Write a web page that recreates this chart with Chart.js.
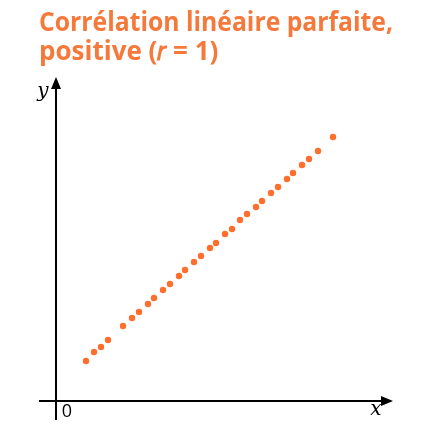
<!DOCTYPE html>
<html lang="fr">
<head>
<meta charset="utf-8">
<title>Corrélation linéaire parfaite, positive</title>
<script src="https://cdn.jsdelivr.net/npm/chart.js@4.4.1/dist/chart.umd.min.js"></script>
<style>
  html, body { margin: 0; padding: 0; background: #ffffff; }
  #wrap { position: relative; width: 429px; height: 436px; }
</style>
</head>
<body>
<div id="wrap"><canvas id="scatterChart"></canvas></div>
<script>
// --- DONNÉES ---
const titleLines = ['Corrélation linéaire parfaite,', 'positive (\u{1D45F} = 1)'];
const xValues = [3.0, 3.8, 4.5, 5.2, 6.7, 7.6, 8.3, 9.2, 9.8, 10.7, 11.4, 12.3, 12.9, 13.8, 14.5, 15.4,
                 16.0, 16.9, 17.6, 18.4, 19.1, 20.0, 20.6, 21.5, 22.2, 23.1, 23.7, 24.6, 25.3, 26.2, 27.7];
const yValues = [4.0, 4.9, 5.4, 6.1, 7.5, 8.3, 8.9, 9.7, 10.3, 11.1, 11.7, 12.5, 13.1, 13.9, 14.5, 15.3,
                 15.8, 16.7, 17.2, 18.1, 18.7, 19.4, 20.0, 20.8, 21.4, 22.2, 22.8, 23.6, 24.2, 25.0, 26.4];
const originLabel = '0';
const xAxisLabel = 'x';
const yAxisLabel = 'y';

const orange = '#f5793b';
const pointOrange = '#ff6e2c';

// Axes fléchés dessinés à partir des échelles
const arrowAxes = {
    id: 'arrowAxes',
    afterDatasetsDraw(chart) {
        const { ctx, chartArea, scales } = chart;
        const x0 = scales.x.getPixelForValue(0);
        const y0 = scales.y.getPixelForValue(0);
        ctx.save();
        ctx.strokeStyle = '#000';
        ctx.fillStyle = '#000';
        ctx.lineWidth = 2;

        // axe vertical
        ctx.beginPath();
        ctx.moveTo(x0, chartArea.bottom);
        ctx.lineTo(x0, chartArea.top + 10);
        ctx.stroke();
        ctx.beginPath();
        ctx.moveTo(x0, chartArea.top);
        ctx.lineTo(x0 - 5, chartArea.top + 12);
        ctx.lineTo(x0 + 5, chartArea.top + 12);
        ctx.closePath();
        ctx.fill();

        // axe horizontal
        ctx.beginPath();
        ctx.moveTo(chartArea.left, y0);
        ctx.lineTo(chartArea.right - 10, y0);
        ctx.stroke();
        ctx.beginPath();
        ctx.moveTo(chartArea.right, y0);
        ctx.lineTo(chartArea.right - 12, y0 - 5);
        ctx.lineTo(chartArea.right - 12, y0 + 5);
        ctx.closePath();
        ctx.fill();

        // étiquettes
        ctx.textAlign = 'center';
        ctx.textBaseline = 'middle';
        ctx.font = '18px "Open Sans", sans-serif';
        ctx.fillText(originLabel, x0 + 11, y0 + 11);
        ctx.font = 'italic 20px "DejaVu Serif", serif';
        ctx.fillText(xAxisLabel, chartArea.right - 17, y0 + 9);
        ctx.fillText(yAxisLabel, x0 - 13, chartArea.top + 15);
        ctx.restore();
    }
};

const ctx = document.getElementById('scatterChart').getContext('2d');
new Chart(ctx, {
    type: 'scatter',
    data: {
        datasets: [{
            data: xValues.map((x, i) => ({ x: x, y: yValues[i] })),
            backgroundColor: pointOrange,
            borderWidth: 0,
            pointRadius: 3.2
        }]
    },
    options: {
        responsive: true,
        maintainAspectRatio: false,
        animation: false,
        layout: { padding: { left: 39, right: 36, top: 0, bottom: 16 } },
        scales: {
            x: { display: false, min: -1.7, max: 33.7 },
            y: { display: false, min: -1.9, max: 32.4 }
        },
        plugins: {
            legend: { display: false },
            tooltip: { enabled: false },
            title: {
                display: true,
                text: titleLines,
                align: 'start',
                color: orange,
                font: { family: 'Open Sans', size: 26, weight: 'bold', lineHeight: '29px' },
                padding: { top: 9, bottom: 10 }
            }
        }
    },
    plugins: [arrowAxes]
});
</script>
</body>
</html>
